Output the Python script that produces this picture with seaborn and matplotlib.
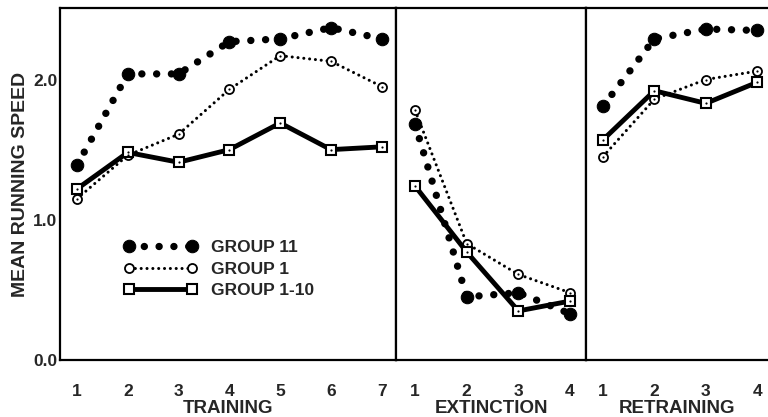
import matplotlib
matplotlib.use("Agg")
import matplotlib.pyplot as plt
import seaborn as sns
import pandas as pd

sns.set_style("white")
plt.rcParams['font.family'] = ['Liberation Sans', 'DejaVu Sans']
plt.rcParams['font.weight'] = 'bold'

# ---- data ----
panels = ["TRAINING", "EXTINCTION", "RETRAINING"]
groups = ["GROUP 11", "GROUP 1", "GROUP 1-10"]

training_x = [1, 2, 3, 4, 5, 6, 7]
training_g11 = [1.39, 2.04, 2.04, 2.27, 2.29, 2.37, 2.29]
training_g1 = [1.15, 1.46, 1.61, 1.93, 2.17, 2.13, 1.95]
training_g110 = [1.22, 1.48, 1.41, 1.50, 1.69, 1.50, 1.52]

extinction_x = [1, 2, 3, 4]
extinction_g11 = [1.68, 0.45, 0.48, 0.33]
extinction_g1 = [1.78, 0.83, 0.61, 0.48]
extinction_g110 = [1.24, 0.77, 0.35, 0.42]

retraining_x = [1, 2, 3, 4]
retraining_g11 = [1.81, 2.29, 2.36, 2.35]
retraining_g1 = [1.45, 1.86, 2.00, 2.06]
retraining_g110 = [1.57, 1.92, 1.83, 1.98]

ytick_vals = [0.0, 1.0, 2.0]
ytick_labels = ["0.0", "1.0", "2.0"]
ylabel = "MEAN RUNNING SPEED"

panel_data = {
    "TRAINING": (training_x, [training_g11, training_g1, training_g110]),
    "EXTINCTION": (extinction_x, [extinction_g11, extinction_g1, extinction_g110]),
    "RETRAINING": (retraining_x, [retraining_g11, retraining_g1, retraining_g110]),
}

rows = []
for p in panels:
    xs, series = panel_data[p]
    for g, vals in zip(groups, series):
        for x, v in zip(xs, vals):
            rows.append({"panel": p, "group": g, "trial": x, "speed": v})
df = pd.DataFrame(rows)

styles = {
    "GROUP 11": dict(linestyle=(0, (0.01, 2.0)), linewidth=5.3, dash_capstyle='round',
                     marker='o', markersize=9, markerfacecolor='black',
                     markeredgecolor='black', zorder=3),
    "GROUP 1": dict(linestyle=(0, (0.01, 1.9)), linewidth=2.2, dash_capstyle='round',
                    marker='o', markersize=6.5, markerfacecolor='white',
                    markeredgecolor='black', markeredgewidth=1.3, zorder=4),
    "GROUP 1-10": dict(linestyle='-', linewidth=3.5, marker='s', markersize=7,
                       markerfacecolor='white', markeredgecolor='black',
                       markeredgewidth=1.5, zorder=5),
}

fig = plt.figure(figsize=(7.68, 4.17), dpi=100)
gs = fig.add_gridspec(1, 3, width_ratios=[336, 190, 182], wspace=0,
                      left=60/768, right=1.0, bottom=57/417, top=409/417)
xlims = [(0.665, 7.28), (0.63, 4.31), (0.67, 4.21)]

axes = []
for i, p in enumerate(panels):
    ax = fig.add_subplot(gs[0, i], sharey=axes[0] if axes else None)
    axes.append(ax)
    sub = df[df.panel == p]
    for g in groups:
        d = sub[sub.group == g]
        sns.lineplot(data=d, x="trial", y="speed", ax=ax, color='black',
                     label=g if i == 0 else None, legend=False, **styles[g])
        if g != "GROUP 11":
            sns.scatterplot(data=d, x="trial", y="speed", ax=ax, color='black',
                            s=2.5, linewidth=0, legend=False, zorder=6)
    ax.set_xlim(*xlims[i])
    ax.set_ylim(0, 2.51)
    ax.set_xticks(panel_data[p][0])
    ax.set_xticklabels([str(v) for v in panel_data[p][0]], fontsize=12.5, fontweight='bold')
    ax.tick_params(axis='x', direction='in', length=7, width=1.5, pad=17, color='black')
    ax.set_xlabel(p, fontsize=13.5, fontweight='bold', labelpad=1)
    for s in ax.spines.values():
        s.set_linewidth(1.6)
        s.set_color('black')
    if i == 0:
        ax.set_yticks(ytick_vals)
        ax.set_yticklabels(ytick_labels, fontsize=12.5, fontweight='bold')
        ax.tick_params(axis='y', direction='in', length=12, width=1.5, pad=2, color='black')
        ax.set_ylabel(ylabel, fontsize=14, fontweight='bold', labelpad=3)
    else:
        ax.tick_params(axis='y', left=False, labelleft=False)
        ax.set_ylabel("")
    if i == 2:
        ax.spines['right'].set_visible(False)

leg = axes[0].legend(loc='upper left', bbox_to_anchor=(0.19, 0.34), frameon=False,
                     numpoints=2, handlelength=4.2, handletextpad=0.8,
                     labelspacing=0.35, borderpad=0, borderaxespad=0,
                     prop={'size': 12.5, 'weight': 'bold'})

fig.savefig("out.png", dpi=100)
